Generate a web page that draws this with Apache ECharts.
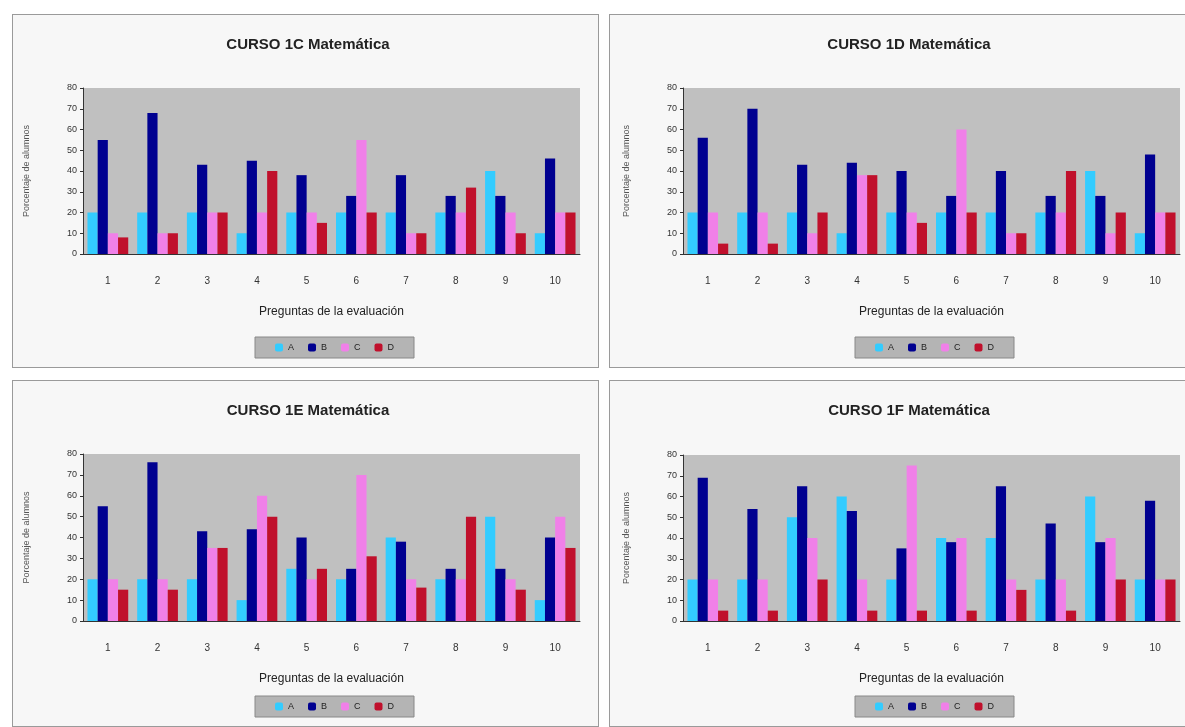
<!DOCTYPE html>
<html>
<head>
<meta charset="utf-8">
<script src="https://cdn.jsdelivr.net/npm/echarts@6/dist/echarts.min.js"></script>
<style>
html,body{margin:0;padding:0;background:#ffffff;width:1185px;height:727px;overflow:hidden;}
.panel{position:absolute;border:1px solid #9a9a9a;background:#f7f7f7;box-sizing:border-box;}
</style>
</head>
<body>
<div id="c1" class="panel" style="left:12px;top:14px;width:587px;height:354px;"></div>
<div id="c2" class="panel" style="left:609px;top:14px;width:590px;height:354px;"></div>
<div id="c3" class="panel" style="left:12px;top:380px;width:587px;height:347px;"></div>
<div id="c4" class="panel" style="left:609px;top:380px;width:590px;height:347px;"></div>
<script>
// ---- data ----
const categories = ['1','2','3','4','5','6','7','8','9','10'];
const seriesNames = ['A','B','C','D'];
const yTicks = [0,10,20,30,40,50,60,70,80];
const titles = ['CURSO 1C Matemática','CURSO 1D Matemática','CURSO 1E Matemática','CURSO 1F Matemática'];

// CURSO 1C
const c1A = [20,20,20,10,20,20,20,20,40,10];
const c1B = [55,68,43,45,38,28,38,28,28,46];
const c1C = [10,10,20,20,20,55,10,20,20,20];
const c1D = [8,10,20,40,15,20,10,32,10,20];
// CURSO 1D
const c2A = [20,20,20,10,20,20,20,20,40,10];
const c2B = [56,70,43,44,40,28,40,28,28,48];
const c2C = [20,20,10,38,20,60,10,20,10,20];
const c2D = [5,5,20,38,15,20,10,40,20,20];
// CURSO 1E
const c3A = [20,20,20,10,25,20,40,20,50,10];
const c3B = [55,76,43,44,40,25,38,25,25,40];
const c3C = [20,20,35,60,20,70,20,20,20,50];
const c3D = [15,15,35,50,25,31,16,50,15,35];
// CURSO 1F
const c4A = [20,20,50,60,20,40,40,20,60,20];
const c4B = [69,54,65,53,35,38,65,47,38,58];
const c4C = [20,20,40,20,75,40,20,20,40,20];
const c4D = [5,5,20,5,5,5,15,5,20,20];

const colors = ['#33CCFF','#000090','#F080E8','#C0102C'];

function build(id, title, A, B, C, D, gridLeft, gridTop, gridH, titleX){
  const chart = echarts.init(document.getElementById(id), null, {renderer:'canvas'});
  const data = [A,B,C,D];
  chart.setOption({
    animation:false,
    backgroundColor:'#f7f7f7',
    title:{text:title,left:titleX,top:17,textAlign:'center',
      textStyle:{fontFamily:'Liberation Sans, Arial, sans-serif',fontSize:15,fontWeight:'bold',color:'#222'}},
    legend:{bottom:9,left:gridLeft+172,data:seriesNames,itemWidth:8,itemHeight:8,itemGap:14,
      backgroundColor:'#b4b4b4',padding:[6,20],borderColor:'#888',borderWidth:1,
      textStyle:{fontSize:9,color:'#222',fontFamily:'Liberation Sans, Arial, sans-serif'}},
    grid:{left:gridLeft,top:gridTop,width:497,height:gridH,show:true,backgroundColor:'#C0C0C0',borderWidth:0},
    xAxis:{type:'category',data:categories,
      name:'Preguntas de la evaluación',nameLocation:'middle',nameGap:52,
      nameTextStyle:{fontSize:12,color:'#222',fontFamily:'Liberation Sans, Arial, sans-serif'},
      axisLine:{lineStyle:{color:'#333'}},axisTick:{show:false},
      axisLabel:{margin:22,fontSize:10,color:'#333'}},
    yAxis:{type:'value',min:yTicks[0],max:yTicks[yTicks.length-1],interval:10,
      name:'Porcentaje de alumnos',nameLocation:'middle',nameGap:52,nameRotate:90,
      nameTextStyle:{fontSize:9,color:'#555'},
      axisLine:{show:true,lineStyle:{color:'#333'}},axisTick:{show:true,length:3,lineStyle:{color:'#333'}},
      splitLine:{show:false},
      axisLabel:{fontSize:9,color:'#333',margin:6}},
    series:seriesNames.map((n,i)=>({name:n,type:'bar',data:data[i],barGap:'0%',barCategoryGap:'18%',
      itemStyle:{color:colors[i]}}))
  });
}
build('c1',titles[0],c1A,c1B,c1C,c1D,70,73,166,290);
build('c2',titles[1],c2A,c2B,c2C,c2D,73,73,166,294);
build('c3',titles[2],c3A,c3B,c3C,c3D,70,73,167,290);
build('c4',titles[3],c4A,c4B,c4C,c4D,73,74,166,294);
</script>
</body>
</html>
